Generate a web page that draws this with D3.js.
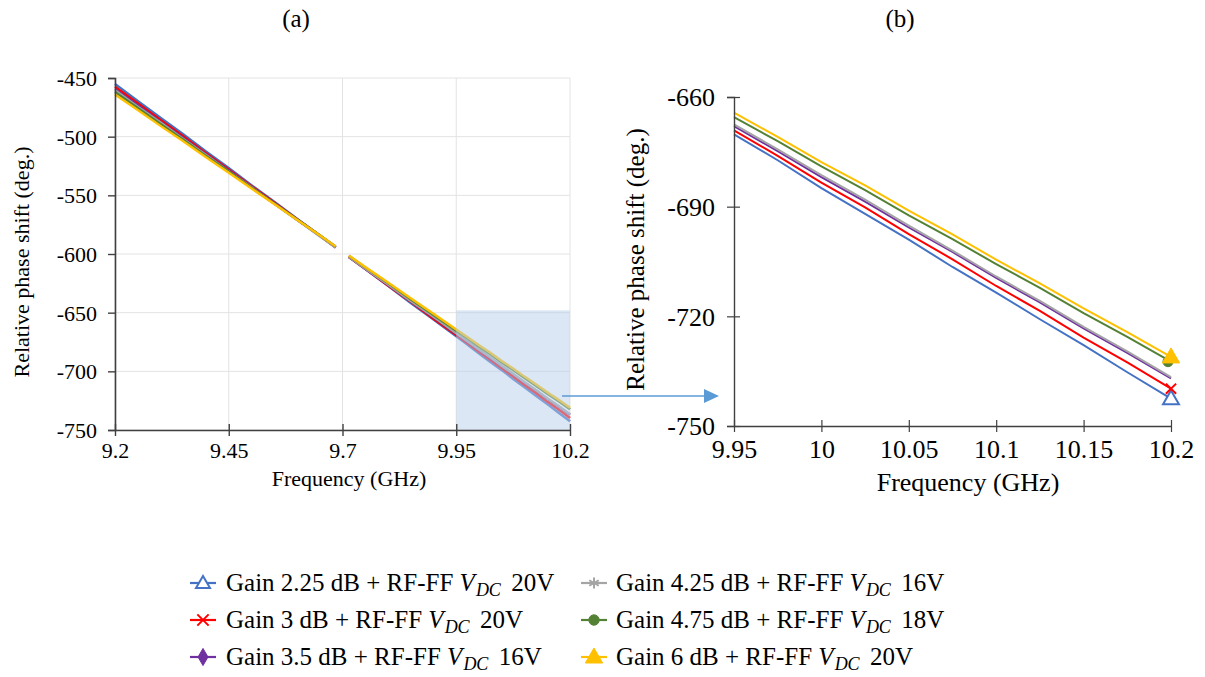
<!DOCTYPE html>
<html><head><meta charset="utf-8">
<script src="https://cdn.jsdelivr.net/npm/d3@7"></script>
<style>
html,body{margin:0;padding:0;background:#fff;}
svg text{font-family:"Liberation Serif","Times New Roman",serif;fill:#000;}
</style></head>
<body><svg id="c" width="1205" height="677"></svg>
<script>
// ---------------- data ----------------
const freqs = [9.2, 9.25, 9.3, 9.35, 9.4, 9.45, 9.5, 9.55, 9.6, 9.65, 9.685, 9.7, 9.714, 9.75, 9.8, 9.85, 9.9,
  9.95, 9.975, 10.0, 10.025, 10.05, 10.075, 10.1, 10.125, 10.15, 10.175, 10.2];
const seriesBlue   = [-455.0,-469.6,-483.9,-498.0,-512.6,-526.7,-541.3,-555.4,-569.9,-584.0,-594.2,null,-602.6,-612.9,-627.1,-641.7,-655.8,-670.2,-677.3,-684.9,-692.0,-699.0,-706.5,-713.5,-720.8,-727.9,-735.3,-742.5];
const seriesRed    = [-457.5,-471.5,-485.8,-499.7,-514.0,-527.9,-542.2,-556.1,-570.4,-584.3,-594.4,null,-602.6,-612.7,-626.9,-640.8,-655.2,-669.1,-676.1,-683.4,-690.2,-697.5,-704.4,-711.7,-718.5,-725.8,-732.6,-739.8];
const seriesPurple = [-459.5,-473.3,-487.4,-501.1,-515.2,-528.9,-543.0,-556.7,-570.8,-584.5,-594.3,null,-602.4,-612.5,-626.2,-640.3,-654.0,-668.0,-674.8,-681.9,-688.6,-695.7,-702.4,-709.5,-716.2,-723.3,-730.0,-737.0];
const seriesGray   = [-460.5,-474.4,-488.0,-502.0,-515.6,-529.6,-543.2,-557.2,-570.8,-584.8,-594.4,null,-602.3,-612.4,-626.0,-640.0,-653.6,-667.5,-674.3,-681.4,-688.1,-695.2,-702.0,-709.1,-715.8,-722.9,-729.6,-736.6];
const seriesGreen  = [-462.0,-475.5,-489.2,-502.6,-516.4,-529.7,-543.5,-556.9,-570.6,-584.0,-593.6,null,-601.5,-611.4,-624.7,-638.5,-651.9,-665.5,-672.1,-679.0,-685.5,-692.4,-698.9,-705.7,-712.2,-719.1,-725.6,-732.4];
const seriesYellow = [-464.0,-477.3,-490.8,-504.0,-517.5,-530.7,-544.2,-557.4,-570.9,-584.1,-593.5,null,-601.3,-611.0,-624.2,-637.7,-650.9,-664.3,-670.9,-677.8,-684.2,-691.1,-697.6,-704.5,-711.0,-717.8,-724.3,-731.1];
const gains = ["2.25", "3", "3.5", "4.25", "4.75", "6"];
const vdcs  = ["20V", "20V", "16V", "16V", "18V", "20V"];
const leftXTicks  = [9.2, 9.45, 9.7, 9.95, 10.2];
const leftYTicks  = [-450, -500, -550, -600, -650, -700, -750];
const rightXTicks = [9.95, 10, 10.05, 10.1, 10.15, 10.2];
const rightYTicks = [-660, -690, -720, -750];
const zoomBox = {x0: 9.95, x1: 10.2, y0: -750, y1: -648};

// ---------------- styles ----------------
const FONT = "Liberation Serif, Times New Roman, serif";
const colors  = ["#4472c4", "#ff0000", "#7030a0", "#a5a5a5", "#548235", "#ffc000"];
const symbols = [d3.symbolTriangle, d3.symbolTimes, d3.symbolDiamond, d3.symbolAsterisk, d3.symbolCircle, d3.symbolTriangle];
const symFill = ["#fff", "none", colors[2], "none", colors[4], colors[5]];
const allSeries = [seriesBlue, seriesRed, seriesPurple, seriesGray, seriesGreen, seriesYellow];
const series = allSeries.map((vals, i) => ({
  i, color: colors[i],
  pts: freqs.map((f, k) => ({f, v: vals[k]}))
}));
const fmt = d => String(d);

const svg = d3.select("#c");
const axisCol = "#404040";

function styleAxis(g, fs, sw) {
  g.attr("font-family", FONT).attr("font-size", fs);
  g.select(".domain").attr("stroke", axisCol).attr("stroke-width", sw);
  g.selectAll(".tick line").attr("stroke", axisCol).attr("stroke-width", sw - 0.2);
  g.selectAll(".tick text").attr("font-family", FONT).attr("font-size", fs).attr("fill", "#000");
}

// ---------------- left panel ----------------
const xL = d3.scaleLinear().domain([9.2, 10.2]).range([115, 570]);
const yL = d3.scaleLinear().domain([-750, -450]).range([430, 78]);
const gL = svg.append("g");

gL.selectAll("line.gy").data(leftYTicks).join("line")
  .attr("x1", xL(9.2)).attr("x2", xL(10.2)).attr("y1", d => yL(d)).attr("y2", d => yL(d))
  .attr("stroke", "#e3e3e3").attr("stroke-width", 1);
gL.selectAll("line.gx").data(leftXTicks).join("line")
  .attr("x1", d => xL(d)).attr("x2", d => xL(d)).attr("y1", yL(-450)).attr("y2", yL(-750))
  .attr("stroke", "#e3e3e3").attr("stroke-width", 1);

const lineL = d3.line().defined(d => d.v != null).x(d => xL(d.f)).y(d => yL(d.v));
gL.selectAll("path.s").data(series).join("path")
  .attr("d", d => lineL(d.pts)).attr("fill", "none")
  .attr("stroke", d => d.color).attr("stroke-width", 2.4);

// zoom box overlay
gL.append("rect")
  .attr("x", xL(zoomBox.x0)).attr("y", yL(zoomBox.y1))
  .attr("width", xL(zoomBox.x1) - xL(zoomBox.x0)).attr("height", yL(zoomBox.y0) - yL(zoomBox.y1))
  .attr("fill", "#b8cfea").attr("fill-opacity", 0.5);

// axes
const axL = d3.axisLeft(yL).tickValues(leftYTicks).tickSize(7).tickPadding(11).tickFormat(fmt);
const gAyL = gL.append("g").attr("transform", `translate(${xL(9.2)},0)`).call(axL);
const axB = d3.axisBottom(xL).tickValues(leftXTicks).tickSizeOuter(0).tickFormat(fmt);
const gAxL = gL.append("g").attr("transform", `translate(0,${yL(-750)})`).call(axB);
styleAxis(gAyL, 22, 1.6);
styleAxis(gAxL, 22, 1.6);
gAyL.selectAll(".tick text").attr("dy", "0.34em");
gAxL.selectAll(".tick line").attr("y1", -6).attr("y2", 6);
gAxL.selectAll(".tick text").attr("y", 28).attr("dy", 0);

gL.append("text").attr("x", 349).attr("y", 486).attr("text-anchor", "middle")
  .attr("font-size", 22).text("Frequency (GHz)");
gL.append("text").attr("transform", `translate(29,${(yL(-450)+yL(-750))/2 + 8}) rotate(-90)`)
  .attr("text-anchor", "middle").attr("font-size", 22).text("Relative phase shift (deg.)");
svg.append("text").attr("x", 296).attr("y", 27).attr("text-anchor", "middle").attr("font-size", 25).text("(a)");

// arrow
svg.append("line").attr("x1", 562).attr("y1", 396).attr("x2", 706).attr("y2", 396)
  .attr("stroke", "#5b9bd5").attr("stroke-width", 1.5);
svg.append("path").attr("d", "M704,389 L719,396 L704,403 Z").attr("fill", "#5b9bd5");

// ---------------- right panel ----------------
const xR = d3.scaleLinear().domain([9.95, 10.2]).range([734, 1171]);
const yR = d3.scaleLinear().domain([-750, -660]).range([426, 97]);
const gR = svg.append("g");
const rightSeries = series.map(s => ({...s, pts: s.pts.filter(p => p.f >= 9.95)}));
const lineR = d3.line().defined(d => d.v != null).x(d => xR(d.f)).y(d => yR(d.v));
gR.selectAll("path.s").data(rightSeries).join("path")
  .attr("d", d => lineR(d.pts)).attr("fill", "none")
  .attr("stroke", d => d.color).attr("stroke-width", 2);

const axLR = d3.axisLeft(yR).tickValues(rightYTicks).tickSize(7).tickPadding(12).tickFormat(fmt);
const gAyR = gR.append("g").attr("transform", `translate(${xR(9.95)},0)`).call(axLR);
const axBR = d3.axisBottom(xR).tickValues(rightXTicks).tickSizeOuter(0).tickFormat(fmt);
const gAxR = gR.append("g").attr("transform", `translate(0,${yR(-750)})`).call(axBR);
styleAxis(gAyR, 26, 1.4);
styleAxis(gAxR, 26, 1.4);
gAyR.selectAll(".tick line").attr("x1", 6).attr("x2", -7);
gAyR.selectAll(".tick text").attr("dy", "0.34em");
gAxR.selectAll(".tick line").attr("y1", -6).attr("y2", 6);
gAxR.selectAll(".tick text").attr("y", 32).attr("dy", 0);

// end markers (blue, red, green, yellow)
const markerIdx = [0, 1, 4, 5];
const symSizes = [110, 70, 80, 130];
markerIdx.forEach((si, k) => {
  const s = rightSeries[si];
  const p = s.pts[s.pts.length - 1];
  gR.append("path")
    .attr("d", d3.symbol().type(symbols[si]).size(symSizes[k])())
    .attr("transform", `translate(${xR(p.f) - (si === 4 ? 3 : 0)},${yR(p.v) + (si === 0 || si === 5 ? 1 : 0)})`)
    .attr("fill", symFill[si]).attr("stroke", s.color).attr("stroke-width", si === 5 || si === 4 ? 1 : 2);
});

gR.append("text").attr("x", 968).attr("y", 491).attr("text-anchor", "middle")
  .attr("font-size", 26).text("Frequency (GHz)");
gR.append("text").attr("transform", `translate(644,${(yR(-660)+yR(-750))/2 - 2}) rotate(-90)`)
  .attr("text-anchor", "middle").attr("font-size", 25).text("Relative phase shift (deg.)");
svg.append("text").attr("x", 900).attr("y", 27).attr("text-anchor", "middle").attr("font-size", 25).text("(b)");

// ---------------- legend ----------------
const legendOrder = [0, 1, 2, 3, 4, 5];
const colX = [{m: 203, t: 226}, {m: 594, t: 616}];
const rowBase = [591, 628, 665];
const gLeg = svg.append("g");
legendOrder.forEach((si, k) => {
  const col = Math.floor(k / 3), row = k % 3;
  const cx = colX[col].m, cy = rowBase[row] - 8;
  gLeg.append("line").attr("x1", cx - 13).attr("x2", cx + 13).attr("y1", cy).attr("y2", cy)
    .attr("stroke", colors[si]).attr("stroke-width", 2.2);
  gLeg.append("path").attr("d", d3.symbol().type(symbols[si]).size(si === 5 ? 130 : 85)())
    .attr("transform", `translate(${cx},${cy + (si === 0 || si === 5 ? 1 : 0)})`)
    .attr("fill", symFill[si]).attr("stroke", colors[si])
    .attr("stroke-width", (si === 3 || si === 1 || si === 0) ? 2 : 1);
  const t = gLeg.append("text").attr("x", colX[col].t).attr("y", rowBase[row]).attr("font-size", 25);
  t.append("tspan").text(`Gain ${gains[si]} dB + RF-FF `);
  t.append("tspan").attr("font-style", "italic").text("V");
  t.append("tspan").attr("font-style", "italic").attr("font-size", 18).attr("dy", 5).attr("dx", 1).text("DC");
  t.append("tspan").attr("dy", -5).attr("dx", 4).text(" " + vdcs[si]);
});
</script></body></html>
